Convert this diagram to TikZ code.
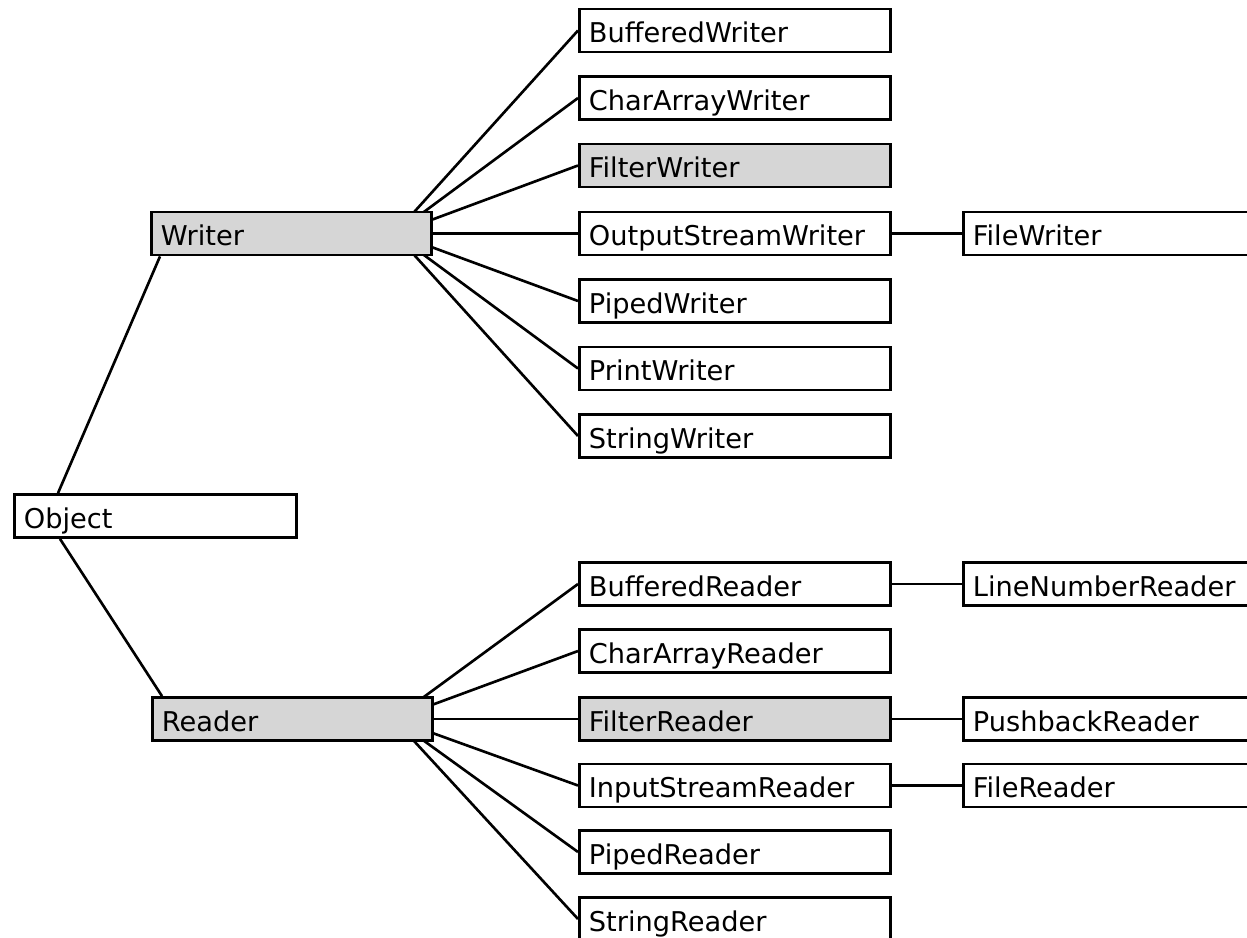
\documentclass[tikz,border=0pt]{standalone}
\usepackage{fontspec}
\setmainfont{DejaVu Sans}
\usetikzlibrary{positioning,calc,backgrounds}
\definecolor{Shade}{HTML}{D6D6D6}
\tikzset{
 cls/.style={draw=black,fill=white,line width=1.6pt,anchor=west,align=left,minimum height=.86cm,inner xsep=.19cm,inner ysep=0pt,text height=15pt,text depth=1pt,font=\fontsize{15.5}{18}\selectfont},
 base/.style={cls,fill=Shade,text width=5.22cm},
 leaf/.style={cls,text width=5.84cm},
 leafabs/.style={leaf,fill=Shade},
 sub/.style={cls,text width=6cm},
 link/.style={line width=1.5pt,draw=black}
}
\begin{document}
\begin{tikzpicture}[x=.02cm,y=-.02cm]
\clip (0,0) rectangle (1247,937);
\node[cls,text width=5.27cm] (Object) at (13,516) {Object};
\node[base] (Writer) at (150,233.5) {Writer};
\node[base] (Reader) at (151,719) {Reader};
% writer side
\foreach \y/\name/\kind in {30.5/BufferedWriter/leaf,98/CharArrayWriter/leaf,165.5/FilterWriter/leafabs,233.5/OutputStreamWriter/leaf,301/PipedWriter/leaf,368.5/PrintWriter/leaf,436/StringWriter/leaf}
 \node[\kind] (\name) at (578,\y) {\name};
% reader side
\foreach \y/\name/\kind in {584/BufferedReader/leaf,651/CharArrayReader/leaf,719/FilterReader/leafabs,785.5/InputStreamReader/leaf,852/PipedReader/leaf,919/StringReader/leaf}
 \node[\kind] (\name) at (578,\y) {\name};
\node[sub] (FileWriter) at (962,233.5) {FileWriter};
\node[sub] (LineNumberReader) at (962,584) {LineNumberReader};
\node[sub] (PushbackReader) at (962,719) {PushbackReader};
\node[sub] (FileReader) at (962,785.5) {FileReader};
\coordinate (wfan) at ($(Writer.east)+(-38,0)$);
\coordinate (rfan) at ($(Reader.east)+(-40,0)$);
\begin{scope}[on background layer]
\foreach \name in {BufferedWriter,CharArrayWriter,FilterWriter,OutputStreamWriter,PipedWriter,PrintWriter,StringWriter}
 \draw[link] (wfan) -- (\name.west);
\foreach \name in {BufferedReader,CharArrayReader,FilterReader,InputStreamReader,PipedReader,StringReader}
 \draw[link] (rfan) -- (\name.west);
\end{scope}
\draw[link] ($(Object.north west)+(45,0)$) -- ($(Writer.south west)+(10,0)$);
\draw[link] ($(Object.south west)+(47,0)$) -- ($(Reader.north west)+(11,0)$);
\draw[link] (OutputStreamWriter) -- (FileWriter);
\draw[link] (BufferedReader) -- (LineNumberReader);
\draw[link] (FilterReader) -- (PushbackReader);
\draw[link] (InputStreamReader) -- (FileReader);
\end{tikzpicture}
\end{document}
